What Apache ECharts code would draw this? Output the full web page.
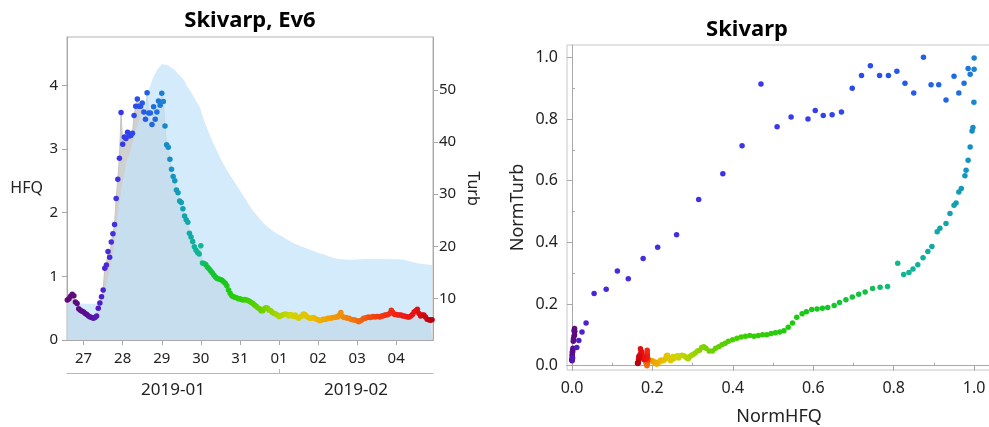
<!DOCTYPE html>
<html><head><meta charset="utf-8">
<script src="https://cdn.jsdelivr.net/npm/echarts@6/dist/echarts.min.js"></script>
<style>html,body{margin:0;padding:0;background:#fff}#c{width:989px;height:427px}</style>
</head><body><div id="c"></div>
<script>
// Hourly samples starting Jan 26 14:00 (day numbers counted in January: Feb 1 = 32)
const startDay = 26 + 14 / 24;

// Turbidity (Turb, right axis) – hourly
const turb = [
 9.7,9.9,10.4,10.8,10.5,9.3,9.0,8.0,7.7,7.5,
 7.4,7.1,6.9,6.6,6.4,6.3,6.2,6.3,6.6,8.1,
 9.1,10.3,11.6,15.8,16.4,19.0,17.9,20.8,22.4,24.2,
 29.2,32.9,36.9,45.7,39.6,41.0,40.7,41.9,41.2,41.3,
 41.7,45.1,46.9,48.3,46.9,46.9,47.5,45.8,44.4,49.5,
 45.6,45.6,43.4,46.8,44.4,45.8,47.9,47.1,49.4,47.8,
 43.1,39.5,39.0,36.7,34.8,33.4,32.6,30.8,30.3,28.7,
 28.4,27.2,25.8,25.1,24.6,22.5,21.8,20.9,19.9,19.3,
 18.8,18.5,20.1,16.8,16.7,16.5,16.0,15.7,15.3,14.9,
 14.5,14.1,13.8,13.7,13.6,13.5,13.2,12.9,12.4,11.6,
 11.0,10.5,10.3,10.2,10.1,9.9,9.9,9.8,9.7,9.8,
 9.7,9.6,9.4,9.2,9.0,8.7,8.5,8.2,8.0,7.6,
 7.6,8.0,8.2,8.1,7.7,7.6,7.3,7.1,7.0,6.8,
 6.5,6.6,6.8,6.9,7.0,6.9,6.6,6.9,6.8,6.5,
 6.8,6.4,6.2,6.4,6.6,7.0,6.9,6.5,6.3,6.2,
 6.2,6.3,6.2,6.0,5.9,5.7,5.8,6.0,6.0,6.0,
 6.2,6.2,6.2,6.3,6.3,6.4,6.4,6.8,7.3,6.5,
 6.3,6.3,6.2,6.2,6.0,5.9,5.9,5.8,5.7,5.5,
 5.7,5.9,6.2,6.2,6.3,6.4,6.3,6.4,6.5,6.4,
 6.5,6.5,6.4,6.6,6.6,6.8,6.8,6.9,7.1,7.7,
 7.3,6.9,6.9,6.8,6.8,6.8,6.6,6.6,6.5,6.4,
 6.4,6.6,6.9,7.4,7.6,7.9,7.1,6.6,6.8,6.8,
 6.4,6.0,5.9,5.8,5.9
];

// Discharge (HFQ, left axis) – hourly
const hfq = [
 0.585,0.59,0.592,0.59,0.585,0.58,0.578,0.575,0.573,0.571,
 0.57,0.569,0.568,0.567,0.566,0.566,0.566,0.568,0.572,0.611,
 0.630,0.660,0.698,0.773,0.886,0.991,1.093,1.232,1.368,1.545,
 1.752,1.978,2.158,2.335,2.486,2.617,2.775,2.843,2.918,3.001,
 3.088,3.189,3.276,3.359,3.445,3.528,3.607,3.683,3.765,3.856,
 3.927,3.999,4.067,4.142,4.187,4.236,4.274,4.293,4.330,4.330,
 4.328,4.319,4.311,4.293,4.274,4.255,4.244,4.210,4.187,4.161,
 4.142,4.104,4.067,4.010,3.984,3.935,3.897,3.852,3.803,3.758,
 3.720,3.671,3.615,3.52,3.45,3.38,3.31,3.25,3.19,3.13,
 3.07,3.02,2.96,2.91,2.86,2.81,2.76,2.72,2.67,2.63,
 2.59,2.55,2.51,2.47,2.43,2.39,2.35,2.31,2.27,2.23,
 2.19,2.15,2.11,2.07,2.03,2.00,1.97,1.94,1.91,1.88,
 1.85,1.82,1.80,1.78,1.76,1.74,1.72,1.70,1.685,1.67,
 1.655,1.64,1.625,1.61,1.595,1.58,1.565,1.55,1.535,1.52,
 1.51,1.50,1.49,1.48,1.47,1.46,1.45,1.44,1.43,1.42,
 1.41,1.40,1.39,1.38,1.37,1.36,1.355,1.35,1.34,1.33,
 1.32,1.31,1.30,1.29,1.285,1.28,1.275,1.27,1.268,1.265,
 1.263,1.26,1.26,1.26,1.26,1.26,1.262,1.264,1.266,1.268,
 1.27,1.27,1.27,1.272,1.272,1.272,1.272,1.272,1.272,1.272,
 1.272,1.272,1.272,1.272,1.272,1.27,1.27,1.27,1.27,1.27,
 1.27,1.27,1.27,1.27,1.27,1.268,1.264,1.258,1.252,1.245,
 1.238,1.23,1.224,1.218,1.212,1.207,1.203,1.199,1.195,1.192,
 1.189,1.186,1.184,1.182,1.18
];

const dayTicks = [27, 28, 29, 30, 31, 32, 33, 34, 35];
const dayTickLabels = ['27', '28', '29', '30', '31', '01', '02', '03', '04'];
const monthLabels = ['2019-01', '2019-02'];
const monthBoundary = 32;
const hfqTicks = [0, 1, 2, 3, 4];
const turbTicks = [10, 20, 30, 40, 50];
const normTicks = [0, 0.2, 0.4, 0.6, 0.8, 1.0];
const normMinorTicks = [0.1, 0.3, 0.5, 0.7, 0.9];

// rainbow colour stops along the sample index
const colorStops = [
 [0,'#5e0a78'],[12,'#5a0c90'],[18,'#5418b8'],[24,'#4a28d8'],[34,'#3838ec'],[44,'#2850ec'],
 [54,'#1e6ee0'],[60,'#1888cc'],[66,'#1398bc'],[74,'#10a8a8'],[82,'#10b890'],[86,'#14c040'],
 [96,'#18c818'],[110,'#38d000'],[120,'#70d000'],[128,'#a0d400'],[138,'#d0d400'],[150,'#e8c000'],
 [162,'#f0a000'],[176,'#f07810'],[190,'#f04010'],[204,'#f02018'],[214,'#e81010'],[224,'#b80010']
];
function hexToRgb(h){return [parseInt(h.slice(1,3),16),parseInt(h.slice(3,5),16),parseInt(h.slice(5,7),16)];}
function colorAt(i){
  for (let k=0;k<colorStops.length-1;k++){
    const a=colorStops[k], b=colorStops[k+1];
    if (i>=a[0] && i<=b[0]){
      const t=(i-a[0])/(b[0]-a[0]); const ca=hexToRgb(a[1]), cb=hexToRgb(b[1]);
      return 'rgb('+ca.map((v,j)=>Math.round(v+(cb[j]-v)*t)).join(',')+')';
    }
  }
  return colorStops[colorStops.length-1][1];
}

const n = turb.length;
const times = turb.map((_, i) => startDay + i / 24);
const minDay = startDay - 0.2 / 24;
const maxDay = startDay + (n - 1 + 0.6) / 24;
const hMin = Math.min(...hfq), hMax = Math.max(...hfq);
const tMin = Math.min(...turb), tMax = Math.max(...turb);

const FONT = 'Noto Sans';
const axisCol = '#a8a8a8';
const txtCol = '#222';

const chart = echarts.init(document.getElementById('c'), null, {renderer:'canvas'});
chart.setOption({
  animation: false,
  textStyle: {fontFamily: FONT},
  title: [
    {text:'Skivarp, Ev6', left:250, top:10, textAlign:'center', padding:0,
     textStyle:{fontSize:22, fontWeight:'bold', color:'#000', fontFamily:FONT}},
    {text:'Skivarp', left:747, top:19, textAlign:'center', padding:0,
     textStyle:{fontSize:22, fontWeight:'bold', color:'#000', fontFamily:FONT}}
  ],
  grid: [
    {left:67, top:37, width:366, height:303, show:true, borderColor:'#b4b4b4', borderWidth:1, outerBoundsMode:'none'},
    {left:567, top:45, width:424, height:325, show:true, borderColor:'#c8c8c8', borderWidth:1, outerBoundsMode:'none'}
  ],
  xAxis: [
    {gridIndex:0, type:'value', min:minDay, max:maxDay,
     axisLine:{show:true, lineStyle:{color:axisCol}},
     axisTick:{show:true, customValues:dayTicks, length:5, lineStyle:{color:axisCol}},
     axisLabel:{customValues:dayTicks, formatter:v=>dayTickLabels[dayTicks.indexOf(v)], fontSize:15, color:txtCol, margin:11, fontFamily:FONT},
     splitLine:{show:false}},
    {gridIndex:0, type:'value', min:minDay, max:maxDay, position:'bottom', offset:33,
     axisLine:{show:true, lineStyle:{color:'#b8b8b8'}},
     axisTick:{show:true, inside:true, customValues:[monthBoundary], length:4, lineStyle:{color:'#b8b8b8'}},
     axisLabel:{customValues:[(minDay+monthBoundary)/2, (monthBoundary+maxDay)/2],
       formatter:v=>v<monthBoundary?monthLabels[0]:monthLabels[1], fontSize:17, color:txtCol, margin:9, fontFamily:FONT},
     splitLine:{show:false}},
    {gridIndex:1, type:'value', min:-0.0124, max:1.042, name:'NormHFQ', nameLocation:'middle', nameGap:38, nameMoveOverlap:false,
     nameTextStyle:{fontSize:18, color:txtCol, fontFamily:FONT},
     axisLine:{show:true, lineStyle:{color:axisCol}},
     axisTick:{show:true, customValues:normTicks, length:5, lineStyle:{color:axisCol}},
     axisLabel:{customValues:normTicks, formatter:v=>v.toFixed(1), fontSize:16, color:txtCol, margin:10, fontFamily:FONT},
     splitLine:{show:false}},
    {gridIndex:1, type:'value', min:-0.0124, max:1.042,
     axisLine:{show:false}, axisTick:{show:true, customValues:normMinorTicks, length:3, lineStyle:{color:axisCol}},
     axisLabel:{show:false}, splitLine:{show:false}}
  ],
  yAxis: [
    {gridIndex:0, type:'value', min:0, max:4.76, position:'left', name:'HFQ', nameLocation:'middle', nameRotate:0, nameGap:24, nameMoveOverlap:false,
     nameTextStyle:{fontSize:16, color:txtCol, fontFamily:FONT},
     axisLine:{show:true, lineStyle:{color:axisCol}},
     axisTick:{show:true, customValues:hfqTicks, length:5, lineStyle:{color:axisCol}},
     axisLabel:{customValues:hfqTicks, fontSize:15, color:txtCol, margin:9, fontFamily:FONT},
     splitLine:{show:false}},
    {gridIndex:0, type:'value', min:2, max:60.2, position:'right', name:'Turb', nameLocation:'middle', nameRotate:-90, nameGap:32, nameMoveOverlap:false,
     nameTextStyle:{fontSize:16, color:txtCol, fontFamily:FONT},
     axisLine:{show:true, lineStyle:{color:axisCol}},
     axisTick:{show:true, customValues:turbTicks, length:5, lineStyle:{color:axisCol}},
     axisLabel:{customValues:turbTicks, fontSize:15, color:txtCol, margin:6, fontFamily:FONT},
     splitLine:{show:false}},
    {gridIndex:1, type:'value', min:-0.014, max:1.04, name:'NormTurb', nameLocation:'middle', nameGap:40, nameMoveOverlap:false,
     nameTextStyle:{fontSize:18, color:txtCol, fontFamily:FONT},
     axisLine:{show:true, lineStyle:{color:axisCol}},
     axisTick:{show:true, customValues:normTicks, length:5, lineStyle:{color:axisCol}},
     axisLabel:{customValues:normTicks, formatter:v=>v.toFixed(1), fontSize:16, color:txtCol, margin:9, fontFamily:FONT},
     splitLine:{show:false}},
    {gridIndex:1, type:'value', min:-0.014, max:1.04,
     axisLine:{show:false}, axisTick:{show:true, customValues:normMinorTicks, length:3, lineStyle:{color:axisCol}},
     axisLabel:{show:false}, splitLine:{show:false}}
  ],
  series: [
    {type:'line', xAxisIndex:0, yAxisIndex:1, z:1, showSymbol:false, silent:true,
     data: times.map((t,i)=>[t, turb[i]]),
     lineStyle:{color:'#c4c4c4', width:1}, areaStyle:{color:'#d0d0d0', opacity:1}},
    {type:'line', xAxisIndex:0, yAxisIndex:0, z:2, showSymbol:false, silent:true,
     data: times.map((t,i)=>[t, hfq[i]]),
     lineStyle:{width:0}, areaStyle:{color:'rgb(195,227,249)', opacity:0.72}},
    {type:'scatter', xAxisIndex:0, yAxisIndex:1, z:3, symbolSize:5.5,
     data: times.map((t,i)=>[t, turb[i], i]),
     itemStyle:{color:p=>colorAt(p.value[2]), opacity:1}},
    {type:'scatter', xAxisIndex:2, yAxisIndex:2, z:3, symbolSize:5.5,
     data: turb.map((t,i)=>[(hfq[i]-hMin)/(hMax-hMin), (t-tMin)/(tMax-tMin), i]),
     itemStyle:{color:p=>colorAt(p.value[2]), opacity:1}}
  ]
});
</script></body></html>
